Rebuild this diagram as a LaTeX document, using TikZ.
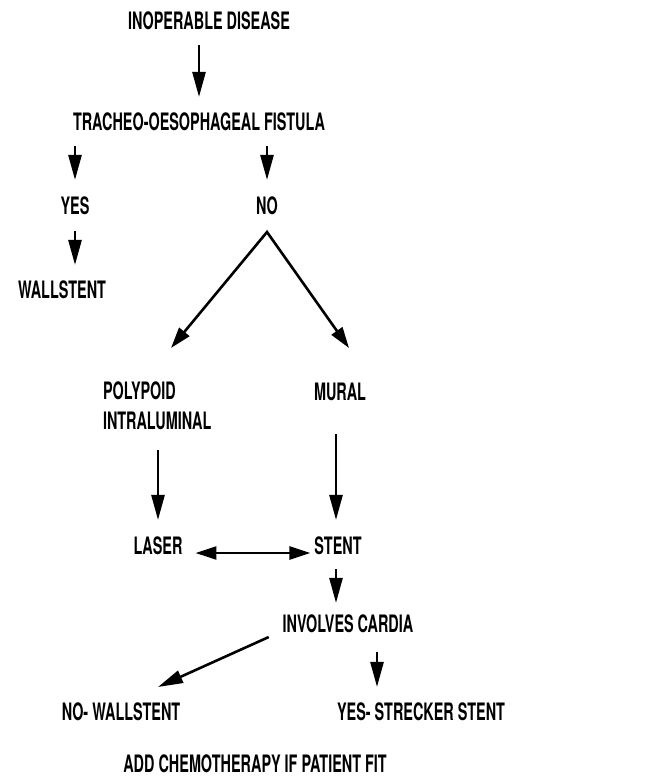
\documentclass[tikz,border=0pt]{standalone}
\usepackage{fontspec}
\setmainfont{TeX Gyre Heros}[FakeStretch=0.60]
\usetikzlibrary{arrows.meta}
\tikzstyle{lbl}=[inner sep=0pt,outer sep=0pt,font=\fontsize{24}{30}\selectfont\bfseries]
\tikzstyle{arr}=[line width=2.6pt,-{Triangle[length=25pt,width=13pt]}]
\tikzstyle{dbl}=[line width=2.6pt,{Triangle[length=21pt,width=13pt]}-{Triangle[length=21pt,width=13pt]}]

\begin{document}
\begin{tikzpicture}[x=1pt,y=-1pt]
			\useasboundingbox (0,0) rectangle (646,778);
			\node (inop) at (209,21) [lbl] {INOPERABLE DISEASE};
			\node (fist) at (199,122) [lbl] {TRACHEO-OESOPHAGEAL FISTULA};
			\node (yes) at (75,206) [lbl] {YES};
			\node (no) at (267,206) [lbl] {NO};
			\node (wall) at (62,290) [lbl] {WALLSTENT};
			\node (poly) at (103,406) [lbl,anchor=west,align=left] {POLYPOID\\INTRALUMINAL};
			\node (mural) at (340,392) [lbl] {MURAL};
			\node (laser) at (158,546) [lbl] {LASER};
			\node (stent) at (338,546) [lbl] {STENT};
			\node (cardia) at (348,624) [lbl] {INVOLVES CARDIA};
			\node (nowall) at (121,712) [lbl] {NO- WALLSTENT};
			\node (yesst) at (421,712) [lbl] {YES- STRECKER STENT};
			\node (chemo) at (255,764) [lbl] {ADD CHEMOTHERAPY IF PATIENT FIT};
			\coordinate (apex) at ([yshift=-17pt]no.south);
			\coordinate (ptip) at (171,348);
			\coordinate (mtip) at (349,348);
			\coordinate (nwtip) at (158,687);
			\draw[arr,shorten <=15pt,shorten >=16pt] (fist.north |- inop.south) -- (fist.north);
			\draw[arr,shorten <=15pt,shorten >=17pt] (yes.north |- fist.south) -- (yes.north);
			\draw[arr,shorten <=15pt,shorten >=17pt] (no.north |- fist.south) -- (no.north);
			\draw[arr,shorten <=16pt,shorten >=16pt] (yes.south) -- (yes.south |- wall.north);
			\draw[dbl] (ptip) -- (apex) -- (mtip);
			\draw[arr,shorten <=20pt,shorten >=17pt] (laser.north |- poly.south) -- (laser.north);
			\draw[arr,shorten <=33pt,shorten >=17pt] ([xshift=-2pt]stent.north |- mural.south) -- ([xshift=-2pt]stent.north);
			\draw[dbl,shorten <=13pt,shorten >=4pt] ([yshift=-7pt]laser.east) -- ([yshift=-7pt]stent.west);
			\draw[arr,shorten <=14pt,shorten >=12pt] ([xshift=-2pt]stent.south) -- ([xshift=-2pt]stent.south |- cardia.north);
			\draw[arr] ([shift={(-14pt,-4pt)}]cardia.south west) -- (nwtip);
			\draw[arr,shorten <=19pt,shorten >=16pt] ([xshift=29pt]cardia.south) -- ([xshift=29pt]cardia.south |- yesst.north);
		\end{tikzpicture}
\end{document}
